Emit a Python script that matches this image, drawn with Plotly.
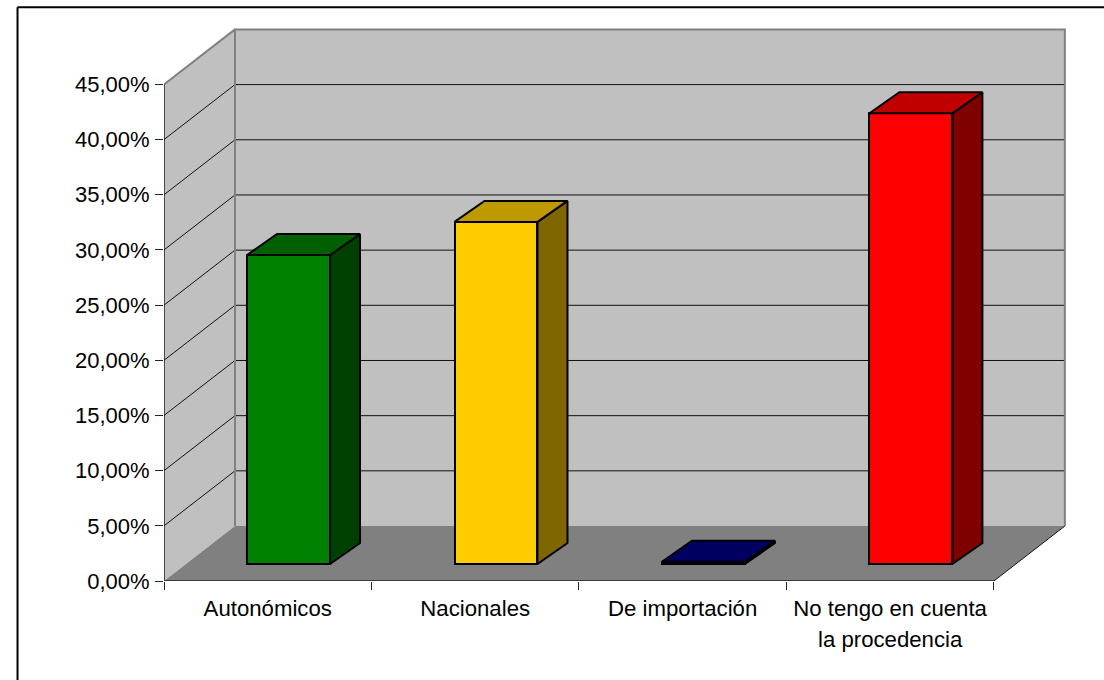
import plotly.graph_objects as go

# Survey data
categories = ["Autonómicos", "Nacionales", "De importación", "No tengo en cuenta"]
category_second_lines = ["", "", "", "la procedencia"]
values = [28.0, 31.0, 0.2, 40.85]
y_ticks = [0, 5, 10, 15, 20, 25, 30, 35, 40, 45]
y_tick_labels = ["0,00%", "5,00%", "10,00%", "15,00%", "20,00%", "25,00%", "30,00%", "35,00%", "40,00%", "45,00%"]

front_colors = ["#008000", "#FFCC00", "#000080", "#FF0000"]
top_colors = ["#006000", "#BF9900", "#000060", "#C00000"]
side_colors = ["#004000", "#806600", "#000040", "#800000"]

# Oblique projection of the chart box, in axis units
PX_PER_CAT = 207.5
PX_PER_PCT = 11.04
BOX_DX = 71 / PX_PER_CAT
BOX_DY = 55 / PX_PER_PCT
BAR_OFFSET_X = 20.8 / PX_PER_CAT
BAR_OFFSET_Y = 17 / PX_PER_PCT
BAR_DX = 30 / PX_PER_CAT
BAR_DY = 21 / PX_PER_PCT
BAR_WIDTH = 0.4

X_MAX = len(categories) + BOX_DX + 0.02
Y_MAX = 45 + BOX_DY + 0.4
WIDTH, HEIGHT = 1104, 680
LEFT, BOTTOM = 164, HEIGHT - 581
PLOT_W = X_MAX * PX_PER_CAT
PLOT_H = Y_MAX * PX_PER_PCT
RIGHT = WIDTH - LEFT - PLOT_W
TOP = HEIGHT - BOTTOM - PLOT_H
FONT = dict(family="Liberation Sans, Arial, sans-serif", size=22, color="#000000")
X_FONT = dict(FONT, size=22.2)
n = len(categories)


def path(points, close=True):
    body = " L ".join(f"{x} {y}" for x, y in points)
    return f"M {body}" + (" Z" if close else "")


def poly(points, fill, line=None, width=0):
    return dict(type="path", path=path(points), xref="x", yref="y", layer="below",
                fillcolor=fill, line=dict(color=line or fill, width=width))


def seg(points, color, width):
    return dict(type="path", path=path(points, close=False), xref="x", yref="y", layer="below",
                line=dict(color=color, width=width))


shapes = [
    poly([(BOX_DX, BOX_DY), (BOX_DX, 45 + BOX_DY), (n + BOX_DX, 45 + BOX_DY), (n + BOX_DX, BOX_DY)], "#C0C0C0"),
    poly([(0, 0), (0, 45), (BOX_DX, 45 + BOX_DY), (BOX_DX, BOX_DY)], "#C0C0C0"),
    poly([(0, 0), (n, 0), (n + BOX_DX, BOX_DY), (BOX_DX, BOX_DY)], "#808080"),
]
for tick in y_ticks[1:-1]:
    shapes.append(seg([(0, tick), (BOX_DX, tick + BOX_DY), (n + BOX_DX, tick + BOX_DY)], "#111111", 1))
shapes += [
    seg([(0, 45), (BOX_DX, 45 + BOX_DY)], "#808080", 2),
    seg([(BOX_DX, BOX_DY), (BOX_DX, 45 + BOX_DY), (n + BOX_DX, 45 + BOX_DY), (n + BOX_DX, BOX_DY)], "#808080", 2),
    seg([(n, 0), (n + BOX_DX, BOX_DY)], "#111111", 1),
]
# Frame of the chart area: top and left rules only
shapes += [
    dict(type="line", xref="paper", yref="paper", line=dict(color="#000000", width=2),
         x0=(17.5 - LEFT) / PLOT_W, x1=(WIDTH + 5 - LEFT) / PLOT_W,
         y0=(HEIGHT - BOTTOM - 7) / PLOT_H, y1=(HEIGHT - BOTTOM - 7) / PLOT_H),
    dict(type="line", xref="paper", yref="paper", line=dict(color="#000000", width=2),
         x0=(17.5 - LEFT) / PLOT_W, x1=(17.5 - LEFT) / PLOT_W,
         y0=(HEIGHT - BOTTOM - 7) / PLOT_H, y1=(HEIGHT - BOTTOM - HEIGHT - 5) / PLOT_H),
]

fig = go.Figure()

# Front faces of the columns
centres = [i + 0.5 + BAR_OFFSET_X for i in range(n)]
fig.add_trace(go.Bar(
    x=centres, y=values, base=[BAR_OFFSET_Y] * n, width=BAR_WIDTH,
    marker=dict(color=front_colors, line=dict(color="#000000", width=2)),
    hoverinfo="skip", showlegend=False,
))

# Side and top faces of the columns
for cx, v, top_c, side_c in zip(centres, values, top_colors, side_colors):
    x0, x1 = cx - BAR_WIDTH / 2, cx + BAR_WIDTH / 2
    y0, y1 = BAR_OFFSET_Y, BAR_OFFSET_Y + v
    side = [(x1, y0), (x1, y1), (x1 + BAR_DX, y1 + BAR_DY), (x1 + BAR_DX, y0 + BAR_DY), (x1, y0)]
    top = [(x0, y1), (x1, y1), (x1 + BAR_DX, y1 + BAR_DY), (x0 + BAR_DX, y1 + BAR_DY), (x0, y1)]
    for pts, colour in ((side, side_c), (top, top_c)):
        fig.add_trace(go.Scatter(
            x=[p[0] for p in pts], y=[p[1] for p in pts], mode="lines", fill="toself",
            fillcolor=colour, line=dict(color="#000000", width=2),
            hoverinfo="skip", showlegend=False,
        ))

# Front edges of the box, drawn unclipped so they keep their full width
fig.add_trace(go.Scatter(
    x=[0, 0, n], y=[45, 0, 0], mode="lines", line=dict(color="#222222", width=1.5),
    cliponaxis=False, hoverinfo="skip", showlegend=False,
))

# Wrapped part of the long category labels, set below the axis with a 32 px leading
annotations = [
    dict(text=line, x=i + 0.5, y=-59 / PLOT_H, xref="x", yref="paper", showarrow=False,
         xanchor="center", yanchor="middle", font=X_FONT)
    for i, line in enumerate(category_second_lines) if line
]

fig.update_layout(
    width=WIDTH, height=HEIGHT, autosize=False,
    margin=dict(l=LEFT, r=RIGHT, t=TOP, b=BOTTOM, pad=0),
    paper_bgcolor="#FFFFFF", plot_bgcolor="#FFFFFF",
    font=FONT, shapes=shapes, annotations=annotations, showlegend=False, bargap=0,
    xaxis=dict(
        range=[0, X_MAX], showgrid=False, zeroline=False, showline=False,
        tickmode="array", tickvals=[i + 0.5 for i in range(n)], ticktext=categories,
        ticks="outside", ticklen=0, tickangle=0, ticklabelstandoff=7, tickfont=X_FONT,
        minor=dict(tickmode="array", tickvals=list(range(n + 1)), ticks="outside",
                   ticklen=8, tickwidth=1, tickcolor="#222222", showgrid=False),
    ),
    yaxis=dict(
        range=[0, Y_MAX], showgrid=False, zeroline=False, showline=False,
        tickmode="array", tickvals=y_ticks, ticktext=y_tick_labels,
        ticks="outside", ticklen=8, tickwidth=1, tickcolor="#222222",
        ticklabelstandoff=1, tickfont=FONT,
    ),
)

fig.write_html("out.html")
